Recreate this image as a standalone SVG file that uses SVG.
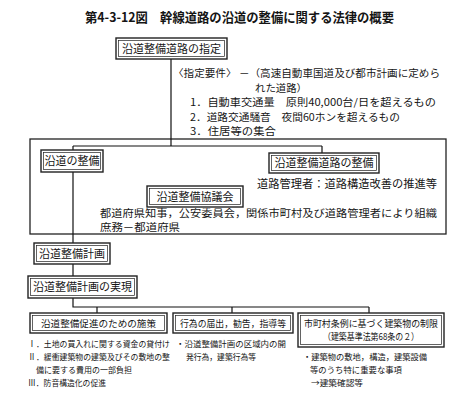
<svg xmlns="http://www.w3.org/2000/svg" width="466" height="404" viewBox="0 0 466 404">
<style>
text{font-family:"Noto Sans CJK JP","Noto Sans",sans-serif;fill:#151515}
.t{font-size:13px;font-weight:bold}
.b{font-size:11px}
.r{font-size:10px}
.s{font-size:9.5px}
.x{font-size:8.5px}
.m{text-anchor:middle}
.o{fill:#fff;stroke:#222;stroke-width:1.4}
.i{fill:none;stroke:#222;stroke-width:0.7}
.c{fill:none;stroke:#111;stroke-width:1.2}
</style>
<rect width="466" height="404" fill="#fff"/>
<text class="t" x="85" y="22" textLength="309" lengthAdjust="spacingAndGlyphs">第4-3-12図　幹線道路の沿道の整備に関する法律の概要</text>

<rect id="bigbox" x="30" y="139" width="416" height="95" fill="none" stroke="#222" stroke-width="1.3"/>

<g id="connectors">
<path class="c" d="M171 59V146M73 146H322M73 146V150M322 146V153"/>
<path class="c" d="M73 172V243M73 264V276M73 298V307H369M97 307V313M232 307V313M369 307V313"/>
</g>

<g id="n1">
<rect class="o" x="116" y="38" width="111" height="21"/>
<rect class="i" x="118.5" y="40.5" width="106" height="16"/>
<text class="b m" x="171.5" y="52.5">沿道整備道路の指定</text>
</g>

<g id="req">
<text class="r" x="173" y="77" textLength="267" lengthAdjust="spacingAndGlyphs">〈指定要件〉 －（高速自動車国道及び都市計画に定めら</text>
<text class="r" x="255" y="91.5" textLength="52" lengthAdjust="spacingAndGlyphs">れた道路）</text>
<text class="r" x="190" y="106" textLength="246" lengthAdjust="spacingAndGlyphs">1．自動車交通量　原則40,000台/日を超えるもの</text>
<text class="r" x="190" y="120.5" textLength="210" lengthAdjust="spacingAndGlyphs">2．道路交通騒音　夜間60ホンを超えるもの</text>
<text class="r" x="190" y="135" textLength="86" lengthAdjust="spacingAndGlyphs">3．住居等の集合</text>
</g>

<g id="n2">
<rect class="o" x="41" y="150" width="62" height="22"/>
<rect class="i" x="43.5" y="152.5" width="57" height="17"/>
<text class="b m" x="72" y="165">沿道の整備</text>
</g>

<g id="n3">
<rect class="o" x="269" y="153" width="110" height="20"/>
<rect class="i" x="271.5" y="155.5" width="105" height="15"/>
<text class="b m" x="324" y="167">沿道整備道路の整備</text>
<text class="b" x="257" y="188" textLength="180" lengthAdjust="spacingAndGlyphs">道路管理者：道路構造改善の推進等</text>
</g>

<g id="n4">
<rect class="o" x="147" y="186" width="96" height="21"/>
<rect class="i" x="149.5" y="188.5" width="91" height="16"/>
<text class="b m" x="195" y="200.5">沿道整備協議会</text>
<text class="r" x="100" y="216.5" textLength="337" lengthAdjust="spacingAndGlyphs">都道府県知事，公安委員会，関係市町村及び道路管理者により組織</text>
<text class="r" x="100" y="231" textLength="80" lengthAdjust="spacingAndGlyphs">庶務－都道府県</text>
</g>

<g id="n5">
<rect class="o" x="34" y="243" width="76" height="21"/>
<rect class="i" x="36.5" y="245.5" width="71" height="16"/>
<text class="b m" x="72" y="257.5">沿道整備計画</text>
</g>

<g id="n6">
<rect class="o" x="28" y="276" width="109" height="22"/>
<rect class="i" x="30.5" y="278.5" width="104" height="17"/>
<text class="b m" x="82.5" y="291">沿道整備計画の実現</text>
</g>

<g id="n7">
<rect class="o" x="30" y="313" width="137" height="20"/>
<rect class="i" x="32.5" y="315.5" width="132" height="15"/>
<text class="s m" x="98.5" y="326.5" textLength="115" lengthAdjust="spacingAndGlyphs">沿道整備促進のための施策</text>
<text class="x" x="28" y="347" textLength="142" lengthAdjust="spacingAndGlyphs">Ⅰ．土地の買入れに関する資金の貸付け</text>
<text class="x" x="28" y="360" textLength="142" lengthAdjust="spacingAndGlyphs">Ⅱ．緩衝建築物の建築及びその敷地の整</text>
<text class="x" x="36" y="373" textLength="96" lengthAdjust="spacingAndGlyphs">備に要する費用の一部負担</text>
<text class="x" x="28" y="386" textLength="78" lengthAdjust="spacingAndGlyphs">Ⅲ．防音構造化の促進</text>
</g>

<g id="n8">
<rect class="o" x="173" y="313" width="120" height="20"/>
<rect class="i" x="175.5" y="315.5" width="115" height="15"/>
<text class="s m" x="233" y="326.5" textLength="106" lengthAdjust="spacingAndGlyphs">行為の届出，勧告，指導等</text>
<text class="x" x="176" y="347" textLength="110" lengthAdjust="spacingAndGlyphs">・沿道整備計画の区域内の開</text>
<text class="x" x="186" y="360" textLength="70" lengthAdjust="spacingAndGlyphs">発行為，建築行為等</text>
</g>

<g id="n9">
<rect class="o" x="298" y="313" width="146" height="34"/>
<rect class="i" x="300.5" y="315.5" width="141" height="29"/>
<text class="s m" x="371" y="326.5" textLength="134" lengthAdjust="spacingAndGlyphs">市町村条例に基づく建築物の制限</text>
<text class="s m" x="371" y="340" textLength="96" lengthAdjust="spacingAndGlyphs">（建築基準法第68条の２）</text>
<text class="x" x="303" y="360" textLength="124" lengthAdjust="spacingAndGlyphs">・建築物の敷地，構造，建築設備</text>
<text class="x" x="310" y="373" textLength="92" lengthAdjust="spacingAndGlyphs">等のうち特に重要な事項</text>
<text class="x" x="311" y="386" textLength="52" lengthAdjust="spacingAndGlyphs">→建築確認等</text>
</g>
</svg>
